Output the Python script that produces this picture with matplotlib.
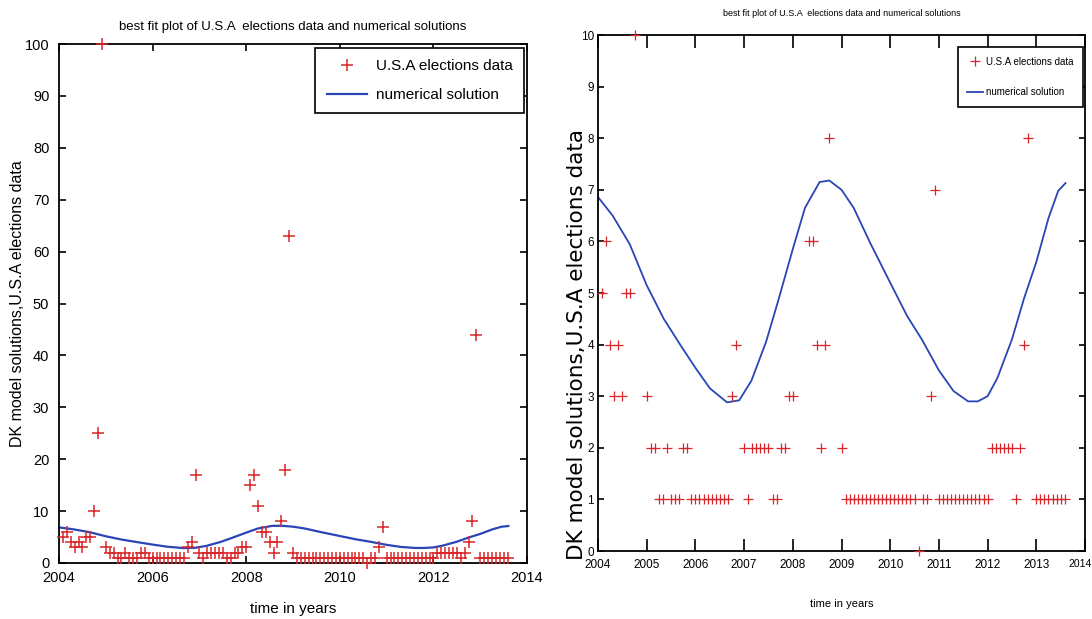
import numpy as np
import matplotlib
matplotlib.use("Agg")
import matplotlib.pyplot as plt
from matplotlib.transforms import ScaledTranslation

# Monthly search-interest index, starting February 2004 (month 1)
months = np.arange(1, 116)
interest = [
    5, 6, 4, 3, 4, 3, 5, 5, 10, 25, 100, 3,
    2, 2, 1, 1, 2, 1, 1, 1, 2, 2, 1, 1,
    1, 1, 1, 1, 1, 1, 1, 1, 3, 4, 17, 2,
    1, 2, 2, 2, 2, 2, 1, 1, 2, 2, 3, 3,
    15, 17, 11, 6, 6, 4, 2, 4, 8, 18, 63, 2,
    1, 1, 1, 1, 1, 1, 1, 1, 1, 1, 1, 1,
    1, 1, 1, 1, 1, 1, 0, 1, 1, 3, 7, 1,
    1, 1, 1, 1, 1, 1, 1, 1, 1, 1, 1, 1,
    2, 2, 2, 2, 2, 2, 1, 2, 4, 8, 44, 1,
    1, 1, 1, 1, 1, 1, 1,
]

# Numerical solution of the DK model
curve_years = [2004.0, 2004.3, 2004.65, 2005.0, 2005.35, 2005.7, 2006.0, 2006.3,
               2006.65, 2006.9, 2007.15, 2007.45, 2007.7, 2008.0, 2008.25, 2008.55,
               2008.75, 2009.0, 2009.25, 2009.6, 2010.0, 2010.35, 2010.65, 2011.0,
               2011.3, 2011.6, 2011.8, 2012.0, 2012.2, 2012.5, 2012.75, 2013.0,
               2013.25, 2013.45, 2013.6]
curve_values = [6.86, 6.5, 5.95, 5.15, 4.5, 3.98, 3.55, 3.15,
                2.88, 2.92, 3.3, 4.05, 4.85, 5.85, 6.65, 7.15,
                7.18, 7.0, 6.65, 5.95, 5.2, 4.55, 4.1, 3.5,
                3.1, 2.9, 2.9, 3.0, 3.35, 4.1, 4.9, 5.6,
                6.45, 6.98, 7.13]

title_text = "best fit plot of U.S.A  elections data and numerical solutions"
ylabel_text = "DK model solutions,U.S.A elections data"
xlabel_text = "time in years"
data_label = "U.S.A elections data"
curve_label = "numerical solution"

left_xticks = [2004, 2006, 2008, 2010, 2012, 2014]
left_yticks = list(range(0, 101, 10))
right_xticks = list(range(2004, 2015))
right_yticks = list(range(0, 11))

years = 2004 + months / 12.0
interest = np.array(interest, dtype=float)

RED = "#d8262a"
BLUE = "#2a45b4"
FONT = "Liberation Sans"

fig = plt.figure(figsize=(10.92, 6.19), dpi=100)
fig.patch.set_facecolor("white")


def style_axes(ax, xlen, ylen):
    for s in ax.spines.values():
        s.set_linewidth(1.3)
        s.set_color("black")
    ax.tick_params(axis="x", direction="in", length=xlen, width=1.2,
                   top=True, bottom=True, colors="black")
    ax.tick_params(axis="y", direction="in", length=ylen, width=1.2,
                   left=True, right=True, colors="black")


# ---- left panel: full range ----
axl = fig.add_axes([59 / 1092, 1 - 563 / 619, 468 / 1092, 519 / 619])
axl.plot(years, interest, "+", color=RED, markersize=8, markeredgewidth=1.1,
         clip_on=False, label=data_label, zorder=3)
axl.plot(curve_years, curve_values, "-", color=BLUE, linewidth=1.6,
         label=curve_label, zorder=2)
axl.set_xlim(2004, 2014)
axl.set_ylim(0, 100)
axl.set_xticks(left_xticks)
axl.set_yticks(left_yticks)
style_axes(axl, 5, 5)
for lab in axl.get_xticklabels() + axl.get_yticklabels():
    lab.set_fontfamily(FONT)
    lab.set_fontsize(10.5)
axl.tick_params(axis="x", pad=6)
axl.tick_params(axis="y", pad=7)
axl.set_title(title_text, fontsize=9.5, fontfamily=FONT, pad=10)
axl.set_xlabel(xlabel_text, fontsize=11, fontfamily=FONT, labelpad=12)
axl.set_ylabel(ylabel_text, fontsize=11.5, fontfamily=FONT)
axl.yaxis.set_label_coords(-34 / 468, 0.5)
legl = axl.legend(loc="upper right", bbox_to_anchor=(1 - 3 / 468, 1 - 4 / 519),
                  borderaxespad=0, fancybox=False, framealpha=1, edgecolor="black",
                  prop={"family": FONT, "size": 11}, handlelength=2.6,
                  borderpad=0.75, labelspacing=0.95, handletextpad=0.6)
legl.get_frame().set_linewidth(1.2)

# ---- right panel: zoomed to 0..10 ----
axr = fig.add_axes([598 / 1092, 1 - 551 / 619, 487 / 1092, 516 / 619])
shown = np.where(interest <= 10, interest, np.nan)
axr.plot(years, shown, "+", color=RED, markersize=7, markeredgewidth=0.9,
         clip_on=False, label=data_label, zorder=3)
axr.plot(curve_years, curve_values, "-", color=BLUE, linewidth=1.3,
         label=curve_label, zorder=2)
axr.set_xlim(2004, 2014)
axr.set_ylim(0, 10)
axr.set_xticks(right_xticks)
axr.set_yticks(right_yticks)
style_axes(axr, 9, 4)
for lab in axr.get_xticklabels() + axr.get_yticklabels():
    lab.set_fontfamily(FONT)
    lab.set_fontsize(8.5)
axr.tick_params(axis="x", pad=6)
axr.tick_params(axis="y", pad=3)
# keep the last year label inside the figure edge
last = axr.get_xticklabels()[-1]
last.set_fontsize(7.5)
last.set_transform(last.get_transform() + ScaledTranslation(-5 / 100, 0, fig.dpi_scale_trans))
axr.set_title(title_text, fontsize=6.5, fontfamily=FONT, pad=14)
axr.set_xlabel(xlabel_text, fontsize=8, fontfamily=FONT, labelpad=20)
axr.set_ylabel(ylabel_text, fontsize=15.5, fontfamily="DejaVu Sans")
axr.yaxis.set_label_coords(-11 / 487, (551 - 344) / 516)
legr = axr.legend(loc="upper right", bbox_to_anchor=(1 - 2 / 487, 1 - 12 / 516),
                  borderaxespad=0, fancybox=False, framealpha=1, edgecolor="black",
                  prop={"family": FONT, "size": 7}, handlelength=1.6,
                  borderpad=1.0, labelspacing=2.1, handletextpad=0.3)
legr.get_frame().set_linewidth(1.2)

fig.savefig("out.png", dpi=100, facecolor="white")
